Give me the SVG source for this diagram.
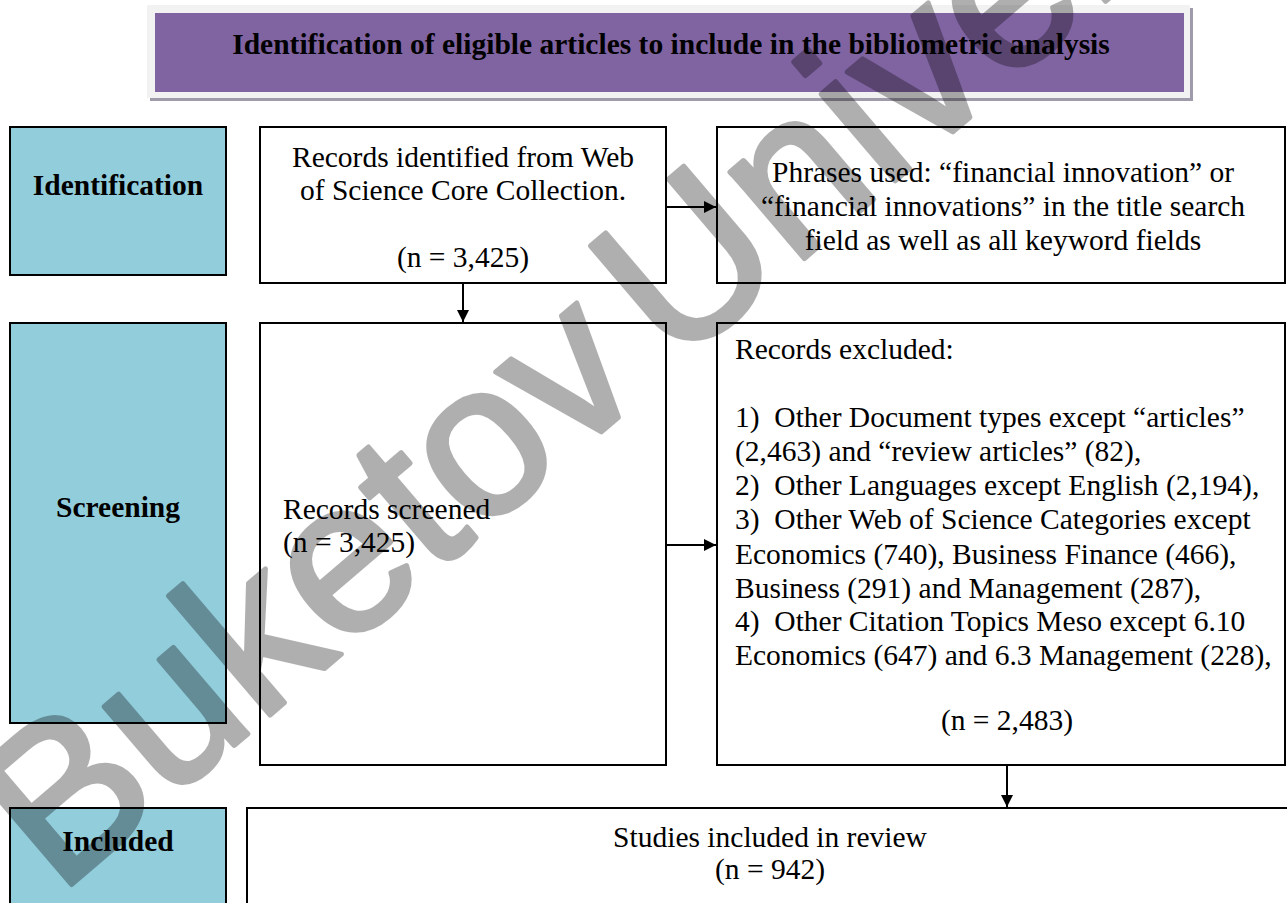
<svg xmlns="http://www.w3.org/2000/svg" width="1287" height="903" viewBox="0 0 1287 903">
<defs>
<style>
.box{fill:#fff;stroke:#000;stroke-width:2}
.stage{fill:#92CDDC;stroke:#000;stroke-width:2}
.t{font-family:"Liberation Serif","Times New Roman",serif;font-size:29.5px;fill:#000}
.b{font-family:"Liberation Serif","Times New Roman",serif;font-size:29.5px;font-weight:bold;fill:#000}
.c{text-anchor:middle}
.conn{stroke:#000;stroke-width:2;fill:none}
.wm{font-family:"Liberation Sans",Arial,sans-serif;font-size:216px;fill:#000;stroke:#000;stroke-width:5;stroke-linejoin:round}
</style>
<marker id="ah" viewBox="0 0 10 10" refX="10" refY="5" markerWidth="6" markerHeight="6" markerUnits="strokeWidth" orient="auto">
<path d="M0,0 L10,5 L0,10 z" fill="#000"/>
</marker>
</defs>
<rect width="1287" height="903" fill="#fff"/>
<g id="title">
<rect x="150" y="8" width="1043" height="93" fill="#A09BAA"/>
<rect x="147" y="5" width="1043" height="93" fill="#F2F2F2"/>
<rect x="155" y="13" width="1029" height="79" fill="#8064A2"/>
<text class="b c" x="671" y="54">Identification of eligible articles to include in the bibliometric analysis</text>
</g>
<g id="identification">
<rect class="stage" x="10" y="127" width="216" height="148"/>
<text class="b c" x="118" y="195">Identification</text>
</g>
<g id="records-identified">
<rect class="box" x="260" y="127" width="406" height="156"/>
<text class="t c" x="463" y="167">Records identified from Web</text>
<text class="t c" x="463" y="200">of Science Core Collection.</text>
<text class="t c" x="463" y="267">(n = 3,425)</text>
</g>
<g id="phrases">
<rect class="box" x="717" y="127" width="568" height="156"/>
<text class="t c" x="1003" y="182">Phrases used: “financial innovation” or</text>
<text class="t c" x="1003" y="216">“financial innovations” in the title search</text>
<text class="t c" x="1003" y="250">field as well as all keyword fields</text>
</g>
<g id="screening">
<rect class="stage" x="10" y="323" width="216" height="400"/>
<text class="b c" x="118" y="517">Screening</text>
</g>
<g id="records-screened">
<rect class="box" x="260" y="323" width="406" height="442"/>
<text class="t" x="283" y="519">Records screened</text>
<text class="t" x="283" y="552">(n = 3,425)</text>
</g>
<g id="records-excluded">
<rect class="box" x="717" y="323" width="568" height="442"/>
<text class="t" x="735" y="359">Records excluded:</text>
<text class="t" x="735" y="427" xml:space="preserve">1)  Other Document types except “articles”</text>
<text class="t" x="735" y="461">(2,463) and “review articles” (82),</text>
<text class="t" x="735" y="495" xml:space="preserve">2)  Other Languages except English (2,194),</text>
<text class="t" x="735" y="529" xml:space="preserve">3)  Other Web of Science Categories except</text>
<text class="t" x="735" y="564">Economics (740), Business Finance (466),</text>
<text class="t" x="735" y="598">Business (291) and Management (287),</text>
<text class="t" x="735" y="631" xml:space="preserve">4)  Other Citation Topics Meso except 6.10</text>
<text class="t" x="735" y="665">Economics (647) and 6.3 Management (228),</text>
<text class="t c" x="1007" y="730">(n = 2,483)</text>
</g>
<g id="included">
<rect class="stage" x="10" y="808" width="216" height="110"/>
<text class="b c" x="118" y="851">Included</text>
</g>
<g id="studies-included">
<rect class="box" x="247" y="808" width="1060" height="110"/>
<text class="t c" x="770" y="847">Studies included in review</text>
<text class="t c" x="770" y="879">(n = 942)</text>
</g>
<g id="connectors">
<line class="conn" x1="666" y1="207" x2="716" y2="207" marker-end="url(#ah)"/>
<line class="conn" x1="463" y1="283" x2="463" y2="322" marker-end="url(#ah)"/>
<line class="conn" x1="666" y1="545" x2="716" y2="545" marker-end="url(#ah)"/>
<line class="conn" x1="1007" y1="765" x2="1007" y2="807" marker-end="url(#ah)"/>
</g>
<g id="watermark" opacity="0.31">
<text class="wm" x="58" y="896" transform="rotate(-40.5 58 896)">Buketov <tspan dx="-30">University</tspan></text>
</g>
</svg>
